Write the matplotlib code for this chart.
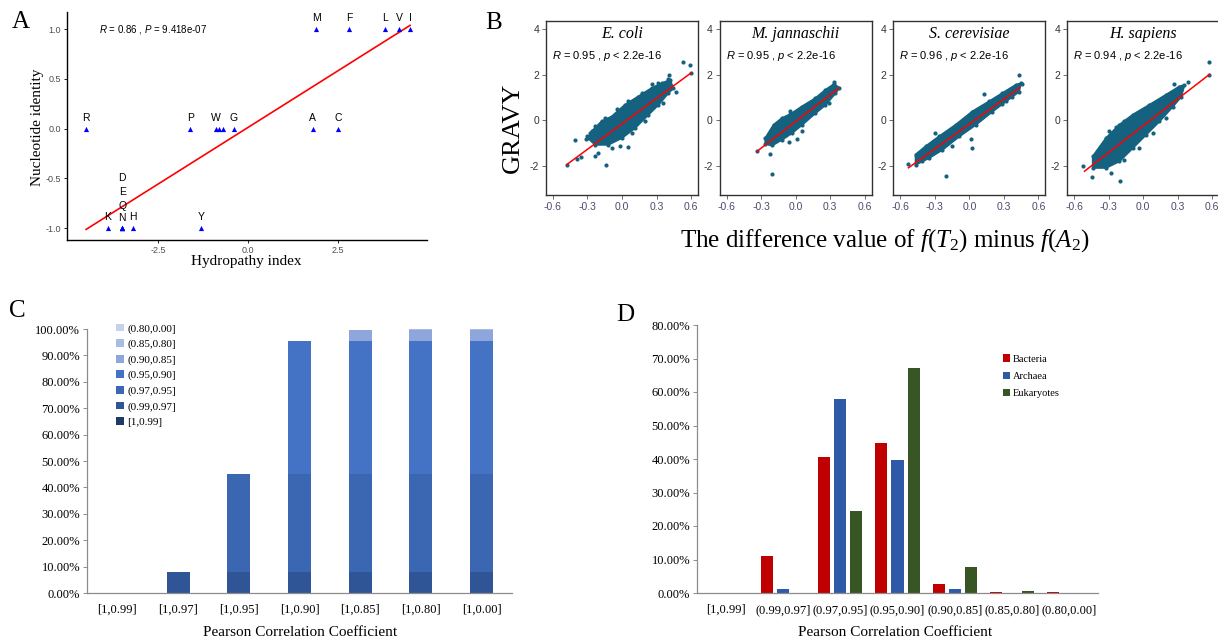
import numpy as np
import matplotlib
matplotlib.use('Agg')
import matplotlib.pyplot as plt
from matplotlib.patches import Patch
from matplotlib.ticker import FormatStrFormatter, PercentFormatter

plt.rcParams['font.family'] = ['Liberation Sans', 'DejaVu Sans']
plt.rcParams['axes.unicode_minus'] = False
plt.rcParams['mathtext.fontset'] = 'custom'
plt.rcParams['mathtext.rm'] = 'Liberation Serif'
plt.rcParams['mathtext.it'] = 'Liberation Serif:italic'
plt.rcParams['mathtext.sf'] = 'Liberation Sans:italic'
SERIF = 'Liberation Serif'

# ---- panel A data
amino_acids = ['R', 'K', 'N', 'D', 'Q', 'E', 'H', 'P', 'Y', 'W', 'S', 'T', 'G', 'A', 'M', 'C', 'F', 'L', 'V', 'I']
hydropathy = [-4.5, -3.9, -3.5, -3.5, -3.5, -3.5, -3.2, -1.6, -1.3, -0.9, -0.8, -0.7, -0.4, 1.8, 1.9, 2.5, 2.8, 3.8, 4.2, 4.5]
nucleotide_identity = [0, -1, -1, -1, -1, -1, -1, 0, -1, 0, 0, 0, 0, 0, 1, 0, 1, 1, 1, 1]
hidden_labels = ['S', 'T']

# ---- panel B data
species = ['E. coli', 'M. jannaschii', 'S. cerevisiae', 'H. sapiens']
species_r = ['0.95', '0.95', '0.96', '0.94']
cloud_x = [
    [-0.263, -0.176, -0.089, 0.026, 0.14, 0.257, 0.344, 0.416, 0.445, 0.40, 0.315, 0.228, 0.113, -0.003, -0.119, -0.234, -0.292],
    [-0.263, -0.191, -0.119, -0.046, 0.055, 0.171, 0.258, 0.33, 0.379, 0.344, 0.258, 0.171, 0.055, -0.032, -0.119, -0.205, -0.263],
    [-0.466, -0.379, -0.263, -0.118, 0.026, 0.171, 0.286, 0.402, 0.445, 0.431, 0.315, 0.199, 0.055, -0.089, -0.234, -0.35, -0.466],
    [-0.436, -0.321, -0.205, -0.089, 0.055, 0.199, 0.315, 0.358, 0.33, 0.258, 0.141, 0.026, -0.089, -0.205, -0.321, -0.436],
]
cloud_y = [
    [-0.48, -0.04, 0.17, 0.68, 1.04, 1.41, 1.62, 1.77, 1.41, 1.19, 0.68, 0.25, -0.33, -0.77, -1.06, -1.06, -0.77],
    [-0.77, -0.19, 0.10, 0.27, 0.61, 0.97, 1.33, 1.58, 1.43, 1.19, 0.68, 0.32, -0.19, -0.55, -0.84, -1.09, -1.03],
    [-1.49, -1.13, -0.70, -0.19, 0.39, 0.83, 1.19, 1.55, 1.62, 1.26, 0.83, 0.39, -0.19, -0.70, -1.28, -1.64, -1.93],
    [-1.57, -0.77, -0.19, 0.25, 0.68, 1.12, 1.48, 1.55, 1.04, 0.61, -0.04, -0.62, -1.20, -1.78, -2.07, -2.07],
]
outlier_x = [
    [-0.48, -0.41, -0.39, -0.36, -0.315, -0.234, -0.139, 0.05, -0.26, 0.257, 0.41, 0.465, 0.53, 0.59, 0.60,
     -0.278, -0.306, -0.205, -0.089, -0.017, 0.084, 0.2, 0.358, 0.171, 0.055, -0.046, -0.147, -0.234, 0.315, 0.396],
    [-0.336, -0.22, -0.21, -0.046, 0.012, 0.33, -0.06, -0.162, 0.113, 0.199, 0.055, 0.286],
    [-0.529, -0.2, -0.297, 0.012, 0.128, 0.431, 0.46, 0.026, -0.306, -0.408, -0.147, 0.113, 0.286, 0.373],
    [-0.523, -0.44, -0.278, -0.2, -0.292, 0.272, 0.388, 0.575, 0.575, -0.234, -0.162, -0.061, -0.162, -0.032,
     0.084, 0.199, -0.379],
]
outlier_y = [
    [-1.93, -0.87, -1.67, -1.61, -0.80, -1.57, -1.93, -1.16, -0.87, 1.58, 1.99, 1.26, 2.57, 2.42, 2.06,
     -0.55, -0.70, -1.42, -1.20, -1.13, -0.55, -0.04, 0.75, 1.19, 0.83, 0.51, 0.10, -0.26, 1.62, 1.81],
    [-1.35, -1.46, -2.33, 0.42, -0.80, 1.70, -0.94, -0.41, 0.42, 0.75, -0.48, 0.75],
    [-1.90, -2.43, -0.55, -0.80, 1.14, 2.01, 1.60, -1.20, -0.88, -1.78, -1.13, 0.61, 0.71, 1.04],
    [-2.00, -2.48, -2.29, -2.65, -0.45, 1.58, 1.67, 2.57, 1.99, -0.30, -0.04, 0.17, -1.75, -1.20,
     -0.55, 0.10, -1.78],
]
fit_x = [[-0.48, 0.60], [-0.336, 0.373], [-0.529, 0.437], [-0.509, 0.575]]
fit_y = [[-1.93, 2.08], [-1.35, 1.41], [-2.07, 1.43], [-2.22, 2.01]]

# ---- panel C data (stacked shares, fractions)
c_categories = ['[1,0.99]', '[1,0.97]', '[1,0.95]', '[1,0.90]', '[1,0.85]', '[1,0.80]', '[1,0.00]']
c_bins = ['[1,0.99]', '(0.99,0.97]', '(0.97,0.95]', '(0.95,0.90]', '(0.90,0.85]', '(0.85,0.80]', '(0.80,0.00]']
c_segments = [
    [0, 0, 0, 0, 0, 0, 0],
    [0, 0.078, 0.078, 0.078, 0.078, 0.078, 0.078],
    [0, 0, 0.372, 0.372, 0.372, 0.372, 0.372],
    [0, 0, 0, 0.506, 0.506, 0.506, 0.506],
    [0, 0, 0, 0, 0.040, 0.040, 0.040],
    [0, 0, 0, 0, 0, 0.003, 0.003],
    [0, 0, 0, 0, 0, 0, 0.001],
]

# ---- panel D data
d_categories = ['[1,0.99]', '(0.99,0.97]', '(0.97,0.95]', '(0.95,0.90]', '(0.90,0.85]', '(0.85,0.80]', '(0.80,0.00]']
bacteria = [0, 0.111, 0.405, 0.449, 0.027, 0.004, 0.002]
archaea = [0, 0.012, 0.579, 0.397, 0.012, 0, 0]
eukaryotes = [0, 0, 0.245, 0.671, 0.079, 0.005, 0]

W, H = 1218, 640
fig = plt.figure(figsize=(W / 100, H / 100), dpi=100)


def px_box(l, t, r, b):
    return [l / W, 1 - b / H, (r - l) / W, (b - t) / H]


def px_pt(x, y):
    return x / W, 1 - y / H


# ================= A
ax = fig.add_axes(px_box(67, 12, 427, 240))
ax.scatter(hydropathy, nucleotide_identity, marker='^', s=14, color='#0000ff', linewidths=0, zorder=3)
slope, icpt = np.polyfit(hydropathy, nucleotide_identity, 1)
xs = np.array([min(hydropathy), max(hydropathy)])
ax.plot(xs, slope * xs + icpt, color='#ff0000', lw=1.2, zorder=2)
lift = {'N': 7.2, 'Q': 16.1, 'E': 25.9, 'D': 36.0}
for name, x, y in zip(amino_acids, hydropathy, nucleotide_identity):
    if name in hidden_labels:
        continue
    ax.annotate(name, (x, y), xytext=(0, lift.get(name, 7.7)), textcoords='offset points',
                ha='center', va='center', fontsize=7.5)
ax.text(0.089, 0.925, r'$\mathsf{R}$ = 0.86 , $\mathsf{P}$ = 9.418e-07', transform=ax.transAxes,
        fontsize=7, va='center', ha='left')
ax.set_xlim(-5.03, 4.97)
ax.set_ylim(-1.12, 1.171)
ax.set_xticks([-2.5, 0, 2.5])
ax.set_yticks([-1, -0.5, 0, 0.5, 1])
ax.xaxis.set_major_formatter(FormatStrFormatter('%.1f'))
ax.yaxis.set_major_formatter(FormatStrFormatter('%.1f'))
ax.tick_params(labelsize=6.5, labelcolor='#4d4d4d', length=2.5, width=0.6, pad=2)
for s in ['top', 'right']:
    ax.spines[s].set_visible(False)
for s in ['left', 'bottom']:
    ax.spines[s].set_linewidth(1.0)
fig.text(*px_pt(246, 261), 'Hydropathy index', fontfamily=SERIF, fontsize=11, ha='center', va='center')
fig.text(*px_pt(38, 127), 'Nucleotide identity', fontfamily=SERIF, fontsize=11, ha='center', va='center', rotation=90)

# ================= B
TEAL = '#14627f'
for k in range(4):
    left = 546 + 173.7 * k
    axb = fig.add_axes(px_box(left, 21, left + 152, 195))
    axb.fill(cloud_x[k], cloud_y[k], color=TEAL, lw=1.5, zorder=1)
    axb.scatter(cloud_x[k] + outlier_x[k], cloud_y[k] + outlier_y[k], s=9, color=TEAL, linewidths=0, zorder=2)
    axb.plot(fit_x[k], fit_y[k], color='#ff0000', lw=1.1, zorder=3)
    axb.set_xlim(-0.66, 0.66)
    axb.set_ylim(-3.26, 4.35)
    axb.set_xticks([-0.6, -0.3, 0, 0.3, 0.6])
    axb.set_yticks([-2, 0, 2, 4])
    axb.xaxis.set_major_formatter(FormatStrFormatter('%.1f'))
    axb.yaxis.set_major_formatter(FormatStrFormatter('%d'))
    axb.tick_params(axis='x', labelsize=7.5, labelcolor='#4a4a6e', length=3, width=0.6, pad=2, color='#555555')
    axb.tick_params(axis='y', labelsize=7.5, labelcolor='#333333', length=3, width=0.6, pad=2, color='#555555')
    for s in axb.spines.values():
        s.set_color('#333333')
        s.set_linewidth(1.0)
    axb.text(0.5, 0.925, species[k], transform=axb.transAxes, ha='center', va='center',
             fontfamily=SERIF, style='italic', fontsize=11.5)
    axb.text(0.04, 0.80, r'$\mathsf{R}$ = ' + species_r[k] + r' , $\mathsf{p}$ < 2.2e-16',
             transform=axb.transAxes, ha='left', va='center', fontsize=8)
fig.text(*px_pt(513, 128), 'GRAVY', fontfamily=SERIF, fontsize=19, rotation=90, ha='center', va='center')
fig.text(*px_pt(885, 241), r'The difference value of $\mathit{f(T_2)}$ minus $\mathit{f(A_2)}$',
         fontfamily=SERIF, fontsize=18, ha='center', va='center')

# ================= C
c_colors = ['#203864', '#2f5597', '#3a66b2', '#4472c4', '#8ea6dc', '#a9bce6', '#c5d2ee']
axc = fig.add_axes(px_box(87, 329, 512, 593))
xc = np.arange(len(c_categories))
bottom = np.zeros(len(c_categories))
for name, vals, col in zip(c_bins, c_segments, c_colors):
    axc.bar(xc, vals, 0.38, bottom=bottom, color=col, label=name, lw=0)
    bottom += np.array(vals)
axc.set_xlim(-0.5, 6.5)
axc.set_ylim(0, 1.0)
axc.set_yticks(np.arange(0, 1.01, 0.1))
axc.yaxis.set_major_formatter(PercentFormatter(1.0, decimals=2))
axc.set_xticks(xc)
axc.set_xticklabels(c_categories)
handles = [Patch(facecolor=c, label=n) for n, c in zip(c_bins, c_colors)][::-1]
axc.legend(handles=handles, loc='upper left', bbox_to_anchor=(0.068, 1.02), frameon=False,
           prop={'family': SERIF, 'size': 8}, handlelength=0.7, handleheight=0.7,
           handletextpad=0.3, labelspacing=0.5, borderpad=0, borderaxespad=0)

# ================= D
axd = fig.add_axes(px_box(697, 325, 1098, 593))
xd = np.arange(len(d_categories))
bw = 0.21
axd.bar(xd - 0.28, bacteria, bw, color='#c00000', label='Bacteria', lw=0)
axd.bar(xd, archaea, bw, color='#2e5aa8', label='Archaea', lw=0)
axd.bar(xd + 0.28, eukaryotes, bw, color='#375623', label='Eukaryotes', lw=0)
axd.set_xlim(-0.5, 6.5)
axd.set_ylim(0, 0.8)
axd.set_yticks(np.arange(0, 0.81, 0.1))
axd.yaxis.set_major_formatter(PercentFormatter(1.0, decimals=2))
axd.set_xticks(xd)
axd.set_xticklabels(d_categories)
axd.legend(loc='upper left', bbox_to_anchor=(0.762, 0.89), frameon=False,
           prop={'family': SERIF, 'size': 7.5}, handlelength=0.7, handleheight=0.7,
           handletextpad=0.3, labelspacing=0.75, borderpad=0, borderaxespad=0)

for a in (axc, axd):
    for s in ['top', 'right']:
        a.spines[s].set_visible(False)
    for s in ['left', 'bottom']:
        a.spines[s].set_color('#8c8c8c')
        a.spines[s].set_linewidth(0.9)
    a.tick_params(axis='y', length=3, width=0.7, color='#8c8c8c', pad=2)
    a.tick_params(axis='x', length=0, pad=8)
    for lab in a.get_xticklabels() + a.get_yticklabels():
        lab.set_fontfamily(SERIF)
        lab.set_fontsize(9)

fig.text(*px_pt(300, 632), 'Pearson Correlation Coefficient', fontfamily=SERIF, fontsize=11, ha='center', va='center')
fig.text(*px_pt(895, 632), 'Pearson Correlation Coefficient', fontfamily=SERIF, fontsize=11, ha='center', va='center')

# panel letters
for letter, (x, y) in zip('ABCD', [(21, 22), (494, 23), (17, 311), (625, 315)]):
    fig.text(*px_pt(x, y), letter, fontfamily=SERIF, fontsize=18, ha='center', va='center')

fig.savefig('out.png', dpi=100)
